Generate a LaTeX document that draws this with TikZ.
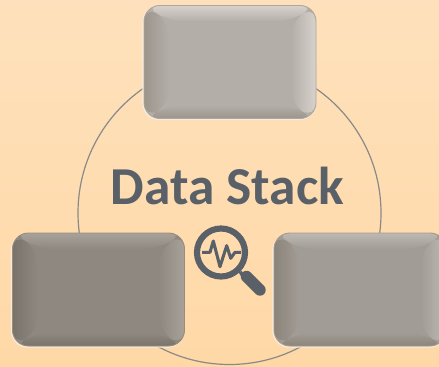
\documentclass[tikz,border=0pt]{standalone}
\usepackage{fontspec}
\setmainfont{Carlito}
\definecolor{bgtop}{HTML}{FEE1BC}
\definecolor{bgbot}{HTML}{FFD8A6}
\definecolor{inkgray}{HTML}{596068}
\definecolor{ringgray}{HTML}{8A8A88}
\definecolor{rimlight}{HTML}{F4ECE4}
\definecolor{topface}{HTML}{B3AEA8}
\definecolor{toplight}{HTML}{D8D2CE}
\definecolor{topdark}{HTML}{9C958D}
\definecolor{leftface}{HTML}{8F8881}
\definecolor{leftlight}{HTML}{A8A29B}
\definecolor{leftdark}{HTML}{7A736A}
\definecolor{rightface}{HTML}{A29C96}
\definecolor{rightlight}{HTML}{BDB8B2}
\definecolor{rightdark}{HTML}{8B847A}
\tikzset{every picture/.style={line width=0.75pt}}
% args: face, light bevel, dark bevel
\tikzset{bevelbox/.style n args={3}{rectangle,inner sep=0pt,minimum width=129pt,minimum height=84.75pt,
    rounded corners=12pt,fill=#1,draw=#3!75!bgbot,line width=0.7pt,
    preaction={draw=rimlight,line width=1.4pt,transform canvas={shift={(-0.5pt,-0.6pt)}}},
    path picture={
      \coordinate (nw) at (path picture bounding box.north west);
      \coordinate (ne) at (path picture bounding box.north east);
      \coordinate (sw) at (path picture bounding box.south west);
      \coordinate (se) at (path picture bounding box.south east);
      \shade[top color=#2,bottom color=#1] (nw) -- (ne) -- ([shift={(-19pt,-12pt)}]ne) -- ([shift={(19pt,-12pt)}]nw) -- cycle;
      \shade[top color=#1,bottom color=#3] ([shift={(19pt,10pt)}]sw) -- ([shift={(-19pt,10pt)}]se) -- (se) -- (sw) -- cycle;
      \shade[left color=#3,right color=#1] (nw) -- ([shift={(19pt,-12pt)}]nw) -- ([shift={(19pt,10pt)}]sw) -- (sw) -- cycle;
      \shade[left color=#1,right color=#2] (ne) -- ([shift={(-19pt,-12pt)}]ne) -- ([shift={(-19pt,10pt)}]se) -- (se) -- cycle;
    }}}

\begin{document}
\begin{tikzpicture}[x=0.75pt,y=0.75pt,yscale=-1,xscale=1]
		\useasboundingbox (0,0) rectangle (439,367);
		%Background
		\shade[top color=bgtop,bottom color=bgbot] (0,0) rectangle (439,367);
		%Shape: Ring
		\node [circle,draw=ringgray,line width=0.9pt,minimum size=227.25pt,inner sep=0pt] (ring) at (229.5,213) {};

		%Shape: Rounded boxes
		\node [bevelbox={topface}{toplight}{topdark}] (topbox) at (230,62) {};
		\node [bevelbox={leftface}{leftlight}{leftdark}] (leftbox) at (98.5,289.5) {};
		\node [bevelbox={rightface}{rightlight}{rightdark}] (rightbox) at (360,289.5) {};

		% Text Node
		\node [font=\bfseries\fontsize{40}{40}\selectfont,text=inkgray,inner sep=0pt] (title) at (227.5,186) {Data Stack};

		%Shape: Magnifier
		\node [circle,draw=inkgray,line width=4.6pt,minimum size=36pt,inner sep=0pt] (lens) at (221,252.5) {};
		\draw [inkgray,line width=2.6pt] (lens.south east) -- (246,281);
		\coordinate (grip) at (246.5,276.5);
		\coordinate (gripend) at (260,290);
		\draw [inkgray,line width=8.6pt,line cap=round] (grip) -- (gripend);
		\draw [inkgray,line width=2.3pt,line join=round] (202,252.3) -- (210,252.3) -- (213.3,241) -- (220,266.7) -- (226.7,245.7) -- (230.7,258.3) -- (235,252.3) -- (241,252.3);
\end{tikzpicture}
\end{document}
